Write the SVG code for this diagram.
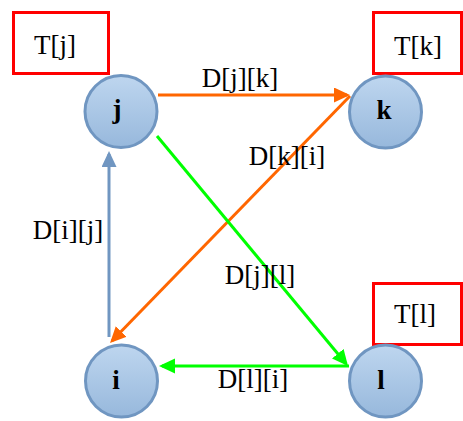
<svg xmlns="http://www.w3.org/2000/svg" width="463" height="421" viewBox="0 0 463 421">
<style>
.lbl{font-family:"Liberation Serif","Times New Roman",serif;font-size:27px;fill:#000}
.nl{font-family:"Liberation Serif","Times New Roman",serif;font-size:27px;font-weight:bold;fill:#000;text-anchor:middle}
.node{fill:url(#g);stroke:#7096c1;stroke-width:3}
.tbox{fill:#fff;stroke:#ff0000;stroke-width:3}
.e{fill:none;stroke-width:3}
</style>
<defs>
<linearGradient id="g" x1="0" y1="0" x2="0" y2="1">
<stop offset="0" stop-color="#bed6ef"/>
<stop offset="1" stop-color="#97b8dc"/>
</linearGradient>
<marker id="ao" markerUnits="userSpaceOnUse" markerWidth="17" markerHeight="16" refX="13" refY="7.5" orient="auto"><path d="M0,0 L16,7.5 L0,15 z" fill="#ff6600"/></marker>
<marker id="ag" markerUnits="userSpaceOnUse" markerWidth="17" markerHeight="16" refX="13" refY="7.5" orient="auto"><path d="M0,0 L16,7.5 L0,15 z" fill="#00ff00"/></marker>
<marker id="ab" markerUnits="userSpaceOnUse" markerWidth="17" markerHeight="16" refX="13" refY="7.5" orient="auto"><path d="M0,0 L16,7.5 L0,15 z" fill="#7096c1"/></marker>
</defs>
<rect width="463" height="421" fill="#fff"/>
<g id="connectors">
<line class="e" x1="158" y1="95" x2="347" y2="95" stroke="#ff6600" marker-end="url(#ao)"/>
<line class="e" x1="350" y1="96" x2="112.1" y2="340.8" stroke="#ff6600" marker-end="url(#ao)"/>
<line class="e" x1="157" y1="136" x2="346.1" y2="363.7" stroke="#00ff00" marker-end="url(#ag)"/>
<line class="e" x1="349" y1="366" x2="162" y2="366" stroke="#00ff00" marker-end="url(#ag)"/>
<line class="e" x1="109" y1="337" x2="109" y2="154" stroke="#7096c1" marker-end="url(#ab)"/>
<text class="lbl" x="240" y="87" text-anchor="middle">D[j][k]</text>
<text class="lbl" x="287" y="165" text-anchor="middle">D[k][i]</text>
<text class="lbl" x="68" y="239" text-anchor="middle">D[i][j]</text>
<text class="lbl" x="260" y="284" text-anchor="middle">D[j][l]</text>
<text class="lbl" x="253" y="388" text-anchor="middle">D[l][i]</text>
</g>
<g id="Tj">
<rect class="tbox" x="13.5" y="12.5" width="95" height="61"/>
<text class="lbl" x="55" y="54" text-anchor="middle">T[j]</text>
</g>
<g id="Tk">
<rect class="tbox" x="373.5" y="12.5" width="88" height="61"/>
<text class="lbl" x="418" y="55" text-anchor="middle">T[k]</text>
</g>
<g id="Tl">
<rect class="tbox" x="373.5" y="283.5" width="88" height="61"/>
<text class="lbl" x="415" y="323" text-anchor="middle">T[l]</text>
</g>
<g id="j">
<circle class="node" cx="121" cy="111.5" r="36"/>
<text class="nl" x="117" y="118">j</text>
</g>
<g id="k">
<circle class="node" cx="385.5" cy="112" r="36"/>
<text class="nl" x="384" y="119">k</text>
</g>
<g id="i">
<circle class="node" cx="121.5" cy="381" r="36"/>
<text class="nl" x="116" y="389">i</text>
</g>
<g id="l">
<circle class="node" cx="385.5" cy="381" r="36"/>
<text class="nl" x="381" y="389">l</text>
</g>
</svg>
